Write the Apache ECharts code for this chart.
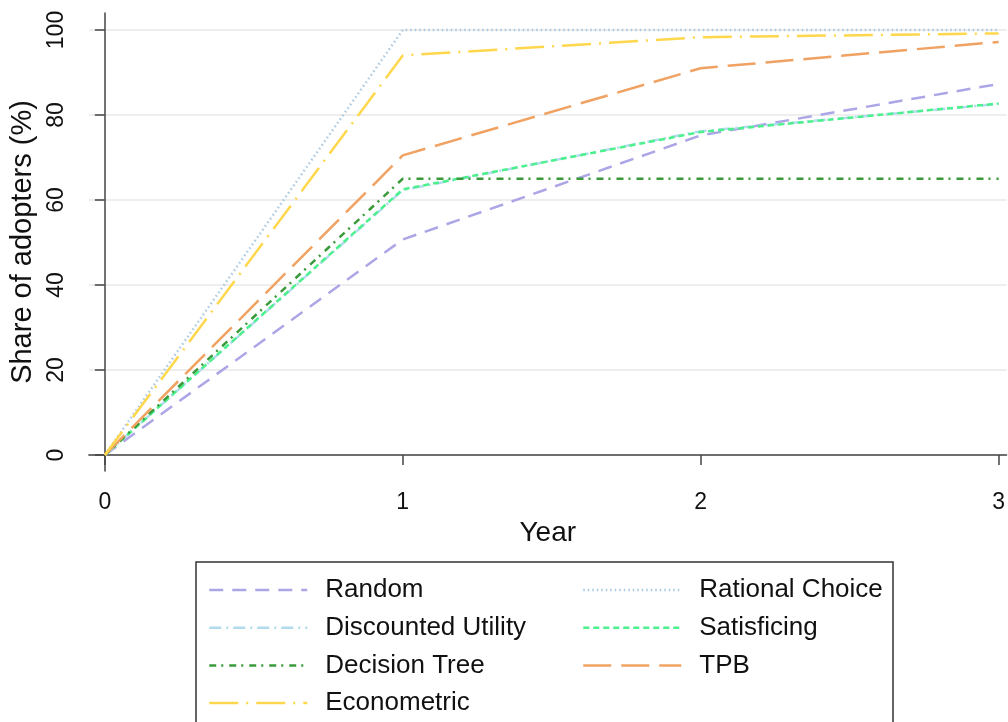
<!DOCTYPE html>
<html>
<head>
<meta charset="utf-8">
<script src="https://cdn.jsdelivr.net/npm/echarts@6/dist/echarts.min.js"></script>
<style>
  html, body { margin: 0; padding: 0; background: #fff; }
  #chart { width: 1008px; height: 722px; }
</style>
</head>
<body>
<div id="chart"></div>
<script>
  // values
  var years = [0, 1, 2, 3];
  var yTicks = [0, 20, 40, 60, 80, 100];
  var random = [0, 50.7, 75.2, 87.3];
  var rationalChoice = [0, 100, 100, 100];
  var discountedUtility = [0, 62.3, 76.2, 82.6];
  var satisficing = [0, 62.5, 76.0, 82.7];
  var decisionTree = [0, 65, 65, 65];
  var tpb = [0, 70.5, 91.0, 97.2];
  var econometric = [0, 94.0, 98.3, 99.2];

  var font = '"Liberation Sans", Arial, sans-serif';

  function pairs(vals) {
    return years.map(function (y, i) { return [y, vals[i]]; });
  }

  function line(name, vals, color, dash, width) {
    return {
      name: name,
      type: 'line',
      data: pairs(vals),
      symbol: 'none',
      silent: true,
      lineStyle: { color: color, width: width || 2.5, type: dash },
      itemStyle: { color: color }
    };
  }

  var legendText = {
    fontFamily: font,
    fontSize: 26,
    color: '#111',
    lineHeight: 26,
    padding: [0, 0, 0, 13]
  };

  function legendCol(names, left) {
    return {
      data: names,
      orient: 'vertical',
      left: left,
      top: 577,
      padding: 0,
      itemWidth: 98,
      itemHeight: 14,
      itemGap: 11.7,
      selectedMode: false,
      itemStyle: { opacity: 0, borderWidth: 0 },
      lineStyle: { width: 2.5 },
      textStyle: legendText
    };
  }

  var chart = echarts.init(document.getElementById('chart'));
  chart.setOption({
    animation: false,
    backgroundColor: '#fff',
    grid: { left: 87, right: 0, top: 13, bottom: 251 },
    xAxis: {
      type: 'value',
      min: -16 / 299,
      max: 3 + 8 / 299,
      name: 'Year',
      nameLocation: 'middle',
      nameGap: 44,
      nameTextStyle: { fontFamily: font, fontSize: 28, color: '#111' },
      axisLine: { show: true, lineStyle: { color: '#444', width: 1.5 } },
      axisTick: { show: true, length: 10, customValues: years, lineStyle: { color: '#444', width: 1.5 } },
      axisLabel: { customValues: years, fontFamily: font, fontSize: 23, color: '#111', margin: 20 },
      splitLine: { show: false }
    },
    yAxis: {
      type: 'value',
      min: -16 / 4.25,
      max: 100 + 17 / 4.25,
      name: 'Share of adopters (%)',
      nameLocation: 'middle',
      nameGap: 39,
      nameRotate: 90,
      nameTextStyle: { fontFamily: font, fontSize: 29, color: '#111' },
      axisLine: { show: true, lineStyle: { color: '#444', width: 1.5 } },
      axisTick: { show: true, length: 10, customValues: yTicks, lineStyle: { color: '#444', width: 1.5 } },
      axisLabel: { customValues: yTicks, rotate: 90, fontFamily: font, fontSize: 23, color: '#111', margin: 21 },
      splitLine: { show: true, lineStyle: { color: '#e8e8e8', width: 1.5 } }
    },
    legend: [
      legendCol(['Random', 'Discounted Utility', 'Decision Tree', 'Econometric'], 208),
      legendCol(['Rational Choice', 'Satisficing', 'TPB'], 582)
    ],
    graphic: [{
      type: 'rect',
      shape: { x: 196, y: 562, width: 697, height: 200 },
      style: { fill: 'none', stroke: '#333', lineWidth: 1.5 },
      silent: true
    }],
    series: [
      line('Random', random, '#aca6e6', [14, 9]),
      line('Rational Choice', rationalChoice, '#a9c9e2', [1.5, 3]),
      line('Discounted Utility', discountedUtility, '#b2dcee', [12, 5, 2, 5]),
      line('Satisficing', satisficing, '#4cf08c', [6, 4]),
      line('Decision Tree', decisionTree, '#3a9a3a', [7, 5, 2, 6]),
      line('TPB', tpb, '#f0a262', [28, 10]),
      line('Econometric', econometric, '#ffd74c', [29, 8, 2, 8])
    ]
  });
</script>
</body>
</html>
